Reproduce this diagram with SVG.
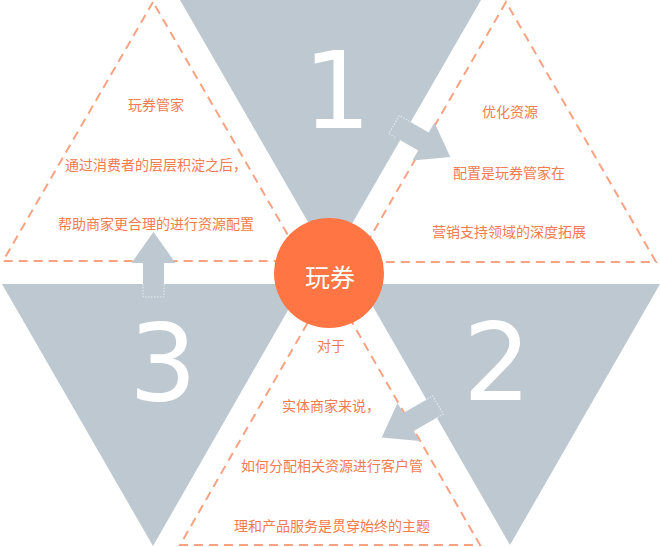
<svg xmlns="http://www.w3.org/2000/svg" width="660" height="547" viewBox="0 0 660 547">
  <style>
    .grey { fill: #BDC8D1; }
    .dash { fill: none; stroke: #F9A282; stroke-width: 2; stroke-dasharray: 9 6; }
    .num { font-family: "DejaVu Sans", sans-serif; font-size: 107px; fill: #FFFFFF; text-anchor: middle; }
    .txt { font-family: "Liberation Sans", "Noto Sans CJK SC", sans-serif; font-size: 14px; fill: #F47B4F; text-anchor: middle; }
    .arrow { fill: #BDC8D1; }
    .dot { fill: none; stroke: #E8ECEF; stroke-width: 1; stroke-dasharray: 1.5 1.5; }
  </style>
  <defs>
    <polygon id="arrowShape" points="0,-10.5 34,-10.5 34,-22 65,0 34,22 34,10.5 0,10.5"/>
  </defs>
  <rect width="660" height="547" fill="#FFFFFF"/>

  <g id="step1">
    <polygon class="grey" points="180,0 481,0 330.5,261"/>
    <text class="num" x="337" y="128">1</text>
  </g>
  <g id="step2">
    <polygon class="grey" points="360,284 660,284 510,545"/>
    <text class="num" x="497" y="400">2</text>
  </g>
  <g id="step3">
    <polygon class="grey" points="2,284 303,284 153,546"/>
    <text class="num" x="163" y="400">3</text>
  </g>

  <g id="box-top-left">
    <polygon class="dash" points="153,2 3,261 303,261"/>
    <text class="txt" x="156" y="110">玩券管家</text>
    <text class="txt" x="156" y="170">通过消费者的层层积淀之后，</text>
    <text class="txt" x="156" y="229">帮助商家更合理的进行资源配置</text>
  </g>
  <g id="box-top-right">
    <polygon class="dash" points="506,2 356,262 656,262"/>
    <text class="txt" x="510" y="117">优化资源</text>
    <text class="txt" x="509" y="178">配置是玩券管家在</text>
    <text class="txt" x="509" y="237">营销支持领域的深度拓展</text>
  </g>
  <g id="box-bottom">
    <polygon class="dash" points="330,284 180,545 480,545"/>
    <text class="txt" x="331" y="351">对于</text>
    <text class="txt" x="331" y="411">实体商家来说，</text>
    <text class="txt" x="332" y="471">如何分配相关资源进行客户管</text>
    <text class="txt" x="332" y="531">理和产品服务是贯穿始终的主题</text>
  </g>

  <g id="connectors">
    <g transform="translate(394,124.5) rotate(30)">
      <use href="#arrowShape" class="arrow"/>
      <polyline class="dot" points="18,-10.5 0,-10.5 0,10.5 8,10.5"/>
    </g>
    <g transform="translate(438,405) rotate(150)">
      <use href="#arrowShape" class="arrow"/>
      <polyline class="dot" points="10,-10.5 0,-10.5 0,10.5 22,10.5"/>
    </g>
    <g transform="translate(153.5,297) rotate(-90)">
      <use href="#arrowShape" class="arrow"/>
      <polyline class="dot" points="13,-10.5 0,-10.5 0,10.5 13,10.5"/>
    </g>
  </g>

  <g id="center">
    <circle cx="329" cy="273" r="55" fill="#FF7543"/>
    <text x="330" y="287" font-family="Liberation Sans, Noto Sans CJK SC, sans-serif" font-size="25" fill="#FFFFFF" text-anchor="middle">玩券</text>
  </g>
</svg>
